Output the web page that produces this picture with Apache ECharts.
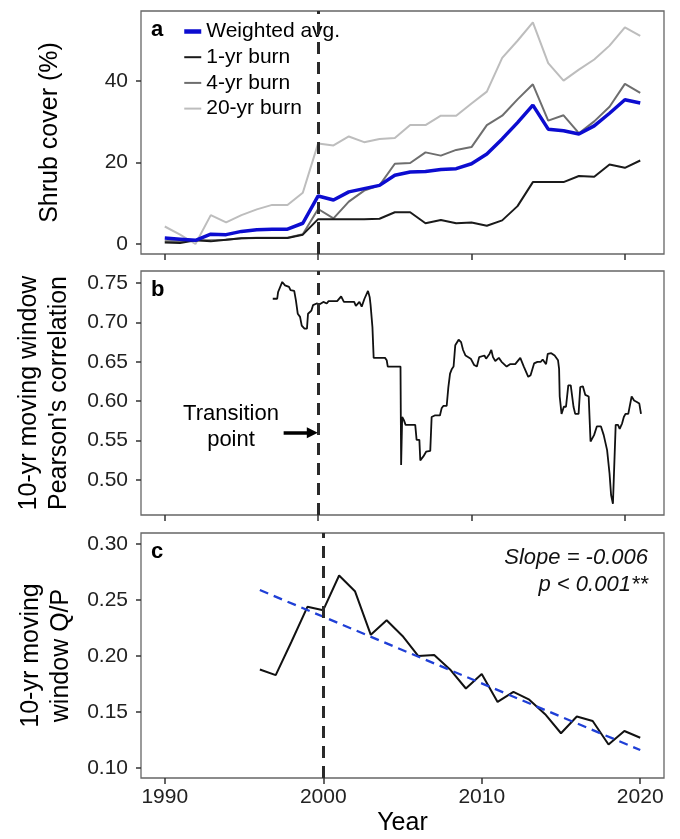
<!DOCTYPE html>
<html>
<head>
<meta charset="utf-8">
<script src="https://cdn.jsdelivr.net/npm/echarts@6/dist/echarts.min.js"></script>
<style>
  html, body { margin: 0; padding: 0; background: #fff; }
  #chart { width: 680px; height: 839px; }
</style>
</head>
<body>
<div id="chart"></div>
<script>
// panel a: shrub cover by burn interval
var years = [1990, 1991, 1992, 1993, 1994, 1995, 1996, 1997, 1998, 1999, 2000, 2001, 2002, 2003, 2004, 2005,
    2006, 2007, 2008, 2009, 2010, 2011, 2012, 2013, 2014, 2015, 2016, 2017, 2018, 2019, 2020, 2021];
var weightedAvg = [1.5, 1.2, 0.9, 2.4, 2.3, 3.1, 3.5, 3.65, 3.65, 5.1, 11.8, 10.8, 12.8, 13.6, 14.4, 16.9,
    17.7, 17.8, 18.3, 18.5, 19.7, 22.1, 25.8, 29.8, 34.1, 28.2, 27.8, 27.0, 29.0, 32.1, 35.4, 34.6];
var burn1 = [0.4, 0.25, 0.9, 0.65, 1.05, 1.4, 1.5, 1.5, 1.5, 2.3, 6.1, 6.1, 6.1, 6.1, 6.2, 7.8,
    7.8, 5.1, 5.9, 5.1, 5.3, 4.5, 5.8, 9.3, 15.2, 15.2, 15.2, 16.7, 16.5, 19.5, 18.7, 20.5];
var burn4 = [0.65, 0.65, 0.9, 0.9, 1.05, 1.4, 1.55, 1.55, 1.55, 2.4, 8.6, 6.3, 10.4, 13.1, 14.4, 19.7,
    19.9, 22.5, 21.7, 23.1, 23.8, 29.2, 31.5, 35.5, 39.2, 30.3, 31.6, 27.2, 30.1, 33.7, 39.3, 37.1];
var burn20 = [4.3, 2.3, 0.0, 7.1, 5.3, 7.1, 8.5, 9.6, 9.6, 12.6, 24.7, 24.2, 26.4, 25.0, 25.8, 26.0,
    29.2, 29.2, 31.5, 31.5, 34.5, 37.4, 45.7, 49.9, 54.4, 44.4, 40.1, 42.8, 45.3, 48.7, 53.2, 51.1];

// panel b: moving window correlation
var corrYears = [1997.04, 1997.33, 1997.39, 1997.66, 1997.84, 1998.1, 1998.2, 1998.44, 1998.55, 1998.67,
    1998.82, 1998.93, 1999.11, 1999.27, 1999.34, 1999.56, 1999.67, 1999.9, 2000.1, 2000.34,
    2000.56, 2000.68, 2001.24, 2001.35, 2001.5, 2001.68, 2002.35, 2002.46, 2002.69, 2002.84,
    2003.02, 2003.25, 2003.36, 2003.42, 2003.54, 2003.62, 2004.03, 2004.36, 2004.47, 2004.54,
    2005.37, 2005.41, 2005.48, 2005.59, 2005.7, 2006.33, 2006.42, 2006.6, 2006.66, 2006.86,
    2007.04, 2007.31, 2007.4, 2007.6, 2007.71, 2007.94, 2008.05, 2008.16, 2008.38, 2008.49,
    2008.6, 2008.72, 2008.83, 2008.94, 2009.16, 2009.32, 2009.45, 2009.61, 2009.95, 2010.17,
    2010.35, 2010.5, 2010.84, 2010.95, 2011.17, 2011.29, 2011.4, 2011.55, 2011.78, 2011.96,
    2012.29, 2012.51, 2012.85, 2013.18, 2013.41, 2013.7, 2013.85, 2014.08, 2014.3, 2014.52,
    2014.64, 2014.86, 2014.97, 2015.2, 2015.42, 2015.64, 2015.71, 2015.75, 2015.87, 2016.02,
    2016.16, 2016.31, 2016.47, 2016.65, 2016.76, 2016.98, 2017.09, 2017.26, 2017.42, 2017.64,
    2017.76, 2017.99, 2018.17, 2018.44, 2018.62, 2018.84, 2019.0, 2019.1, 2019.22, 2019.33,
    2019.4, 2019.55, 2019.66, 2019.82, 2019.93, 2020.04, 2020.22, 2020.33, 2020.44, 2020.6,
    2020.78, 2020.94, 2021.05];
var corrValues = [0.730, 0.730, 0.7386, 0.7513, 0.747, 0.745, 0.741, 0.740, 0.728, 0.711,
    0.707, 0.696, 0.692, 0.692, 0.711, 0.715, 0.722, 0.724, 0.723, 0.726,
    0.724, 0.727, 0.727, 0.725, 0.733, 0.726, 0.726, 0.721, 0.726, 0.720,
    0.730, 0.740, 0.732, 0.722, 0.694, 0.655, 0.655, 0.655, 0.652, 0.644,
    0.644, 0.519, 0.580, 0.576, 0.570, 0.570, 0.551, 0.551, 0.525, 0.530,
    0.536, 0.537, 0.580, 0.582, 0.584, 0.582, 0.591, 0.594, 0.594, 0.618,
    0.635, 0.641, 0.644, 0.671, 0.678, 0.675, 0.665, 0.658, 0.654, 0.646,
    0.644, 0.656, 0.658, 0.654, 0.660, 0.665, 0.656, 0.651, 0.655, 0.650,
    0.644, 0.647, 0.647, 0.655, 0.644, 0.631, 0.633, 0.648, 0.650, 0.650,
    0.653, 0.647, 0.660, 0.661, 0.658, 0.652, 0.641, 0.606, 0.584, 0.593,
    0.593, 0.620, 0.620, 0.593, 0.584, 0.584, 0.618, 0.619, 0.608, 0.606,
    0.549, 0.557, 0.568, 0.568, 0.557, 0.538, 0.508, 0.481, 0.470, 0.470,
    0.570, 0.570, 0.565, 0.572, 0.580, 0.584, 0.584, 0.595, 0.606, 0.601,
    0.599, 0.597, 0.584];

// panel c: moving window Q/P and its trend
var qpYears = [1996, 1997, 1998, 1999, 2000, 2001, 2002, 2003, 2004, 2005, 2006, 2007, 2008,
    2009, 2010, 2011, 2012, 2013, 2014, 2015, 2016, 2017, 2018, 2019, 2020];
var qpValues = [0.188, 0.183, 0.213, 0.244, 0.241, 0.272, 0.258, 0.219, 0.232, 0.218, 0.200, 0.201, 0.188,
    0.171, 0.184, 0.159, 0.168, 0.161, 0.148, 0.131, 0.146, 0.142, 0.121, 0.133, 0.127];
var trendYears = [1996, 2020];
var trendValues = [0.259, 0.116];

var transitionYear = 2000;
var xTicks = [1990, 2000, 2010, 2020];
var shrubTicks = [0, 20, 40];
var corrTicks = [0.50, 0.55, 0.60, 0.65, 0.70, 0.75];
var qpTicks = [0.10, 0.15, 0.20, 0.25, 0.30];

var font = 'Liberation Sans';

function pairs(xs, ys) {
    return xs.map(function (x, i) { return [x, ys[i]]; });
}

function xAxisFor(grid, min, max, last) {
    return {
        type: 'value', gridIndex: grid, min: min, max: max,
        axisLine: { show: false, onZero: false },
        axisTick: { show: true, length: 6, customValues: xTicks, lineStyle: { color: '#333', width: 1.5 } },
        axisLabel: {
            show: last, customValues: xTicks, margin: 9, fontSize: 21, color: '#222', fontFamily: font,
            formatter: function (v) { return String(v); }
        },
        splitLine: { show: false },
        name: last ? 'Year' : '',
        nameLocation: 'middle', nameGap: 33,
        nameTextStyle: { fontSize: 25, color: '#000', fontFamily: font }
    };
}

function yAxisFor(grid, min, max, ticks, digits, name, gap) {
    return {
        type: 'value', gridIndex: grid, min: min, max: max,
        axisLine: { show: false },
        axisTick: { show: true, length: 5, customValues: ticks, lineStyle: { color: '#333', width: 1.5 } },
        axisLabel: {
            customValues: ticks, margin: 13, fontSize: 21, color: '#222', fontFamily: font,
            formatter: function (v) { return v.toFixed(digits); }
        },
        splitLine: { show: false },
        name: name, nameLocation: 'middle', nameGap: gap, nameRotate: 90,
        nameTextStyle: { fontSize: 25, color: '#000', fontFamily: font, lineHeight: 30 }
    };
}

var dashLine = {
    silent: true,
    symbol: ['none', 'none'],
    label: { show: false },
    lineStyle: { color: '#2a2a2a', width: 3, type: [12, 8] },
    data: [{ xAxis: transitionYear }]
};

var gridStyle = { show: true, borderColor: '#666', borderWidth: 1.3, left: 141, width: 523 };

var option = {
    animation: false,
    backgroundColor: '#fff',
    grid: [
        Object.assign({ top: 11, height: 243 }, gridStyle),
        Object.assign({ top: 271, height: 244 }, gridStyle),
        Object.assign({ top: 533, height: 245 }, gridStyle)
    ],
    xAxis: [
        xAxisFor(0, 1988.45, 2022.55, false),
        xAxisFor(1, 1988.45, 2022.55, false),
        xAxisFor(2, 1988.5, 2021.5, true)
    ],
    yAxis: [
        yAxisFor(0, -2.45, 57.2, shrubTicks, 0, 'Shrub cover (%)', 76),
        yAxisFor(1, 0.4557, 0.7652, corrTicks, 2, '10-yr moving window\nPearson\'s correlation', 67),
        yAxisFor(2, 0.091, 0.31, qpTicks, 2, '10-yr moving\nwindow Q/P', 65)
    ],
    legend: {
        orient: 'vertical', left: 182, top: 21, padding: 0,
        itemWidth: 17, itemHeight: 12, itemGap: 4.7,
        itemStyle: { opacity: 0 },
        textStyle: { fontSize: 21, lineHeight: 21, color: '#000', fontFamily: font },
        data: [
            { name: 'Weighted avg.', lineStyle: { width: 4.5 } },
            { name: '1-yr burn', lineStyle: { width: 2 } },
            { name: '4-yr burn', lineStyle: { width: 2 } },
            { name: '20-yr burn', lineStyle: { width: 2 } }
        ]
    },
    graphic: [
        { type: 'text', x: 151, y: 30, style: { text: 'a', font: 'bold 22px Liberation Sans', fill: '#000', verticalAlign: 'middle' } },
        { type: 'text', x: 151, y: 290, style: { text: 'b', font: 'bold 22px Liberation Sans', fill: '#000', verticalAlign: 'middle' } },
        { type: 'text', x: 151, y: 552, style: { text: 'c', font: 'bold 22px Liberation Sans', fill: '#000', verticalAlign: 'middle' } },
        { type: 'text', x: 231, y: 427, style: { text: 'Transition\npoint', font: '22px Liberation Sans', fill: '#000', align: 'center', verticalAlign: 'middle', lineHeight: 26 } },
        { type: 'text', x: 648, y: 571, style: { text: 'Slope = -0.006\np < 0.001**', font: 'italic 22px Liberation Sans', fill: '#111', align: 'right', verticalAlign: 'middle', lineHeight: 27 } }
    ],
    series: [
        {
            name: '20-yr burn', type: 'line', xAxisIndex: 0, yAxisIndex: 0, symbol: 'none',
            data: pairs(years, burn20), lineStyle: { color: '#bdbdbd', width: 2 }, itemStyle: { color: '#bdbdbd' }
        },
        {
            name: '4-yr burn', type: 'line', xAxisIndex: 0, yAxisIndex: 0, symbol: 'none',
            data: pairs(years, burn4), lineStyle: { color: '#6e6e6e', width: 2 }, itemStyle: { color: '#6e6e6e' }
        },
        {
            name: '1-yr burn', type: 'line', xAxisIndex: 0, yAxisIndex: 0, symbol: 'none',
            data: pairs(years, burn1), lineStyle: { color: '#1a1a1a', width: 2 }, itemStyle: { color: '#1a1a1a' }
        },
        {
            name: 'Weighted avg.', type: 'line', xAxisIndex: 0, yAxisIndex: 0, symbol: 'none',
            data: pairs(years, weightedAvg), lineStyle: { color: '#0c0cd0', width: 3.5 }, itemStyle: { color: '#0c0cd0' },
            markLine: dashLine
        },
        {
            name: 'corr', type: 'line', xAxisIndex: 1, yAxisIndex: 1, symbol: 'none',
            data: pairs(corrYears, corrValues), lineStyle: { color: '#111', width: 1.8 },
            markLine: {
                silent: true,
                symbol: ['none', 'none'],
                label: { show: false },
                lineStyle: { color: '#2a2a2a', width: 3, type: [12, 8] },
                data: [
                    { xAxis: transitionYear },
                    [
                        { coord: [1997.75, 0.56], symbol: 'none', lineStyle: { color: '#000', width: 3.5, type: 'solid' } },
                        { coord: [1999.62, 0.56], symbol: 'triangle', symbolSize: [11, 11], symbolRotate: -90 }
                    ]
                ]
            }
        },
        {
            name: 'qp', type: 'line', xAxisIndex: 2, yAxisIndex: 2, symbol: 'none',
            data: pairs(qpYears, qpValues), lineStyle: { color: '#111', width: 2 },
            markLine: dashLine
        },
        {
            name: 'trend', type: 'line', xAxisIndex: 2, yAxisIndex: 2, symbol: 'none',
            data: pairs(trendYears, trendValues), lineStyle: { color: '#1f3fd6', width: 2.3, type: [9, 6] }
        }
    ]
};

var chart = echarts.init(document.getElementById('chart'));
chart.setOption(option);
</script>
</body>
</html>
